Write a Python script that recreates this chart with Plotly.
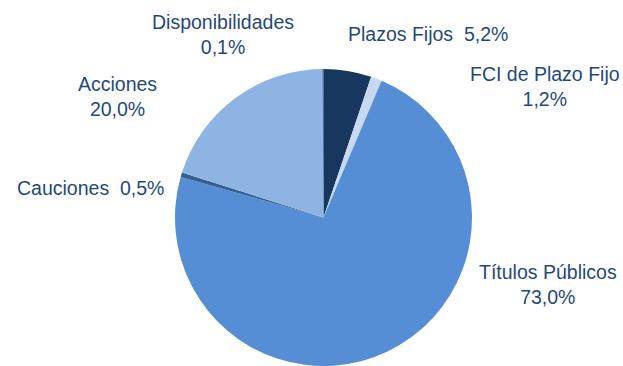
import plotly.graph_objects as go

# Portfolio composition by asset type (share of total, %)
categories = ["Plazos Fijos", "FCI de Plazo Fijo", "Títulos Públicos",
              "Cauciones", "Acciones", "Disponibilidades"]
shares = [5.2, 1.2, 73.0, 0.5, 20.0, 0.1]
colors = ["#17375E", "#C6D9F1", "#558ED5", "#376092", "#8EB4E3", "#1F497D"]

W, H = 623, 366


def fmt(v):
    return f"{v:.1f}".replace(".", ",") + "%"


# label text layout: (category index, x px, y px from top, two-line?)
label_pos = [
    (0, 428, 34, False),
    (1, 545, 86, True),
    (2, 548, 284, True),
    (3, 90, 188, False),
    (4, 117, 96, True),
    (5, 223, 34, True),
]

fig = go.Figure(go.Pie(
    labels=categories,
    values=shares,
    sort=False,
    direction="clockwise",
    rotation=0,
    marker=dict(colors=colors, line=dict(width=0)),
    textinfo="none",
    hoverinfo="label+percent",
    domain=dict(x=[(323.5 - 150) / W, (323.5 + 150) / W], y=[0, 297 / H]),
    showlegend=False,
))

annotations = []
for idx, px, py, two_line in label_pos:
    sep = "<br>" if two_line else "  "
    annotations.append(dict(
        text=f"{categories[idx]}{sep}{fmt(shares[idx])}",
        x=px / W, y=1 - py / H, xref="paper", yref="paper",
        xanchor="center", yanchor="middle", showarrow=False,
        font=dict(family="Liberation Sans, Arial, sans-serif", size=19.5, color="#1F497D"),
    ))

fig.update_layout(
    width=W, height=H,
    margin=dict(l=0, r=0, t=0, b=0),
    paper_bgcolor="white",
    plot_bgcolor="white",
    annotations=annotations,
)

fig.write_html("out.html")
